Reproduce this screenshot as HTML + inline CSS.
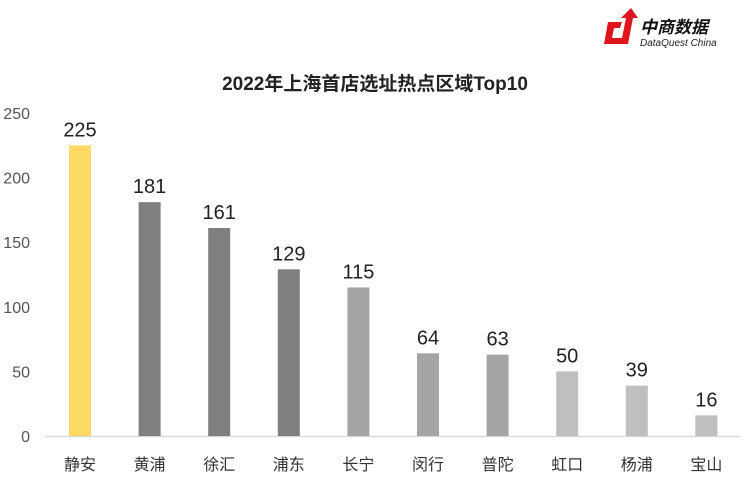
<!DOCTYPE html>
<html><head><meta charset="utf-8"><style>
body{margin:0;background:#fff;width:750px;height:481px;overflow:hidden}
svg text{font-family:"Liberation Sans","Noto Sans CJK SC",sans-serif}
</style></head><body>
<svg id="c" width="750" height="481">
<g>
<path d="M622 22 L608 22 L604 44 L628 44 L633 18 L638 18 L631 8 L621 18 L626 18 L622 38 L612 38 L614 28 L620 28 Z" fill="#e0141e"/>
<text x="640" y="33" font-size="17" font-weight="bold" font-style="italic" fill="#111">中商数据</text>
<text x="640" y="46" font-size="10" font-style="italic" fill="#222">DataQuest China</text>
</g>
<text x="375" y="90" text-anchor="middle" font-size="19" font-weight="bold" fill="#222">2022年上海首店选址热点区域Top10</text>
<line x1="45" y1="436.5" x2="740" y2="436.5" stroke="#d9d9d9" stroke-width="1.5"/>
<g id="g"></g>
</svg>
<script>
const categories=["静安","黄浦","徐汇","浦东","长宁","闵行","普陀","虹口","杨浦","宝山"];
const values=[225,181,161,129,115,64,63,50,39,16];
const colors=["#ffd966","#7f7f7f","#7f7f7f","#7f7f7f","#a5a5a5","#a5a5a5","#a5a5a5","#bfbfbf","#bfbfbf","#bfbfbf"];
const yTicks=[0,50,100,150,200,250];
const y=v=>436-v*(436-113)/250;
const x=i=>80+i*69.6;
const g=document.getElementById('g');
const ns="http://www.w3.org/2000/svg";
function mk(t,a){const e=document.createElementNS(ns,t);for(const k in a)e.setAttribute(k,a[k]);g.appendChild(e);return e;}
yTicks.forEach(t=>{const e=mk('text',{x:30,y:y(t)+6,'text-anchor':'end','font-size':16,fill:'#555'});e.textContent=t;

});
categories.forEach((c,i)=>{
const r=mk('rect',{x:x(i)-11,y:y(values[i]),width:22,height:436-y(values[i]),fill:colors[i]});


const v=mk('text',{x:x(i),y:y(values[i])-9,'text-anchor':'middle','font-size':20,fill:'#222'});v.textContent=values[i];


const l=mk('text',{x:x(i),y:470,'text-anchor':'middle','font-size':16,fill:'#333'});l.textContent=c;


});
</script>
</body></html>
